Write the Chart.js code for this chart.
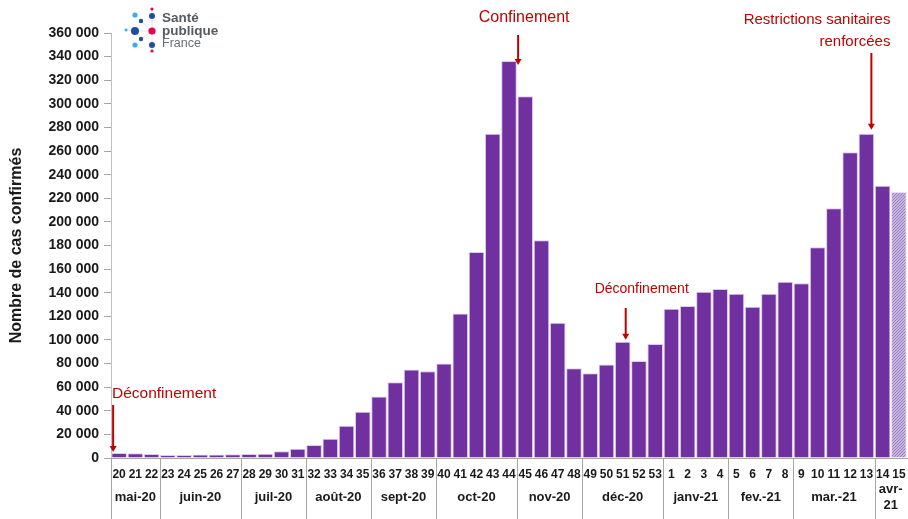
<!DOCTYPE html>
<html>
<head>
<meta charset="utf-8">
<script src="https://cdn.jsdelivr.net/npm/chart.js@4.4.1/dist/chart.umd.min.js"></script>
<style>
  html, body { margin: 0; padding: 0; background: #fff; }
  #wrap { width: 908px; height: 519px; position: relative; }
</style>
</head>
<body>
<div id="wrap"><canvas id="cases"></canvas></div>
<script>
// semaines ISO, mai 2020 -> avril 2021
const weeks = ['20','21','22','23','24','25','26','27','28','29','30','31','32','33','34','35',
  '36','37','38','39','40','41','42','43','44','45','46','47','48','49','50','51','52','53',
  '1','2','3','4','5','6','7','8','9','10','11','12','13','14','15'];

const cases = [4200, 4000, 3300, 2600, 2600, 2900, 3000, 3200, 3300, 3500, 5700, 7900,
  11000, 16400, 27400, 39200, 52200, 64100, 75000, 73500, 80000, 122500, 174500, 274700,
  336300, 306500, 184500, 114500, 76000, 71800, 79300, 98500, 82200, 96600,
  126500, 128700, 140900, 143100, 139200, 128200, 139200, 149400, 148000,
  178500, 211500, 259000, 274700, 230700, 225300];

const months = ['mai-20', 'juin-20', 'juil-20', 'août-20', 'sept-20', 'oct-20', 'nov-20',
  'déc-20', 'janv-21', 'fev.-21', 'mar.-21', ['avr-', '21']];
const monthWeeks = [3, 5, 4, 4, 4, 5, 4, 5, 4, 4, 5, 2];

const yTicksMax = 360000;
const yStep = 20000;

const PURPLE = '#7030A0';
const RED = '#C00000';

// derniere semaine = donnees provisoires (hachurees)
function makePattern() {
  const c = document.createElement('canvas');
  c.width = 3; c.height = 3;
  const g = c.getContext('2d');
  g.fillStyle = '#C7B3DE';
  g.fillRect(0, 0, 3, 3);
  g.fillStyle = '#9C80C4';
  g.fillRect(0, 0, 1, 1);
  g.fillRect(2, 1, 1, 1);
  g.fillRect(1, 2, 1, 1);
  return g.createPattern(c, 'repeat');
}
const pattern = makePattern();

function fmt(v) {
  return String(v).replace(/\B(?=(\d{3})+(?!\d))/g, ' ');
}

function arrow(ctx, x, y1, y2) {
  ctx.strokeStyle = RED;
  ctx.fillStyle = RED;
  ctx.lineWidth = 2;
  ctx.beginPath();
  ctx.moveTo(x, y1);
  ctx.lineTo(x, y2 - 5);
  ctx.stroke();
  ctx.beginPath();
  ctx.moveTo(x - 3.5, y2 - 6);
  ctx.lineTo(x + 3.5, y2 - 6);
  ctx.lineTo(x, y2);
  ctx.closePath();
  ctx.fill();
}

const extras = {
  id: 'extras',
  afterDraw(chart) {
    const ctx = chart.ctx;
    const x = chart.scales.x;
    const y = chart.scales.y;
    const area = chart.chartArea;
    const half = (x.getPixelForValue(1) - x.getPixelForValue(0)) / 2;
    ctx.save();

    // separateurs de mois + libelles
    ctx.strokeStyle = '#A6A6A6';
    ctx.lineWidth = 1;
    ctx.fillStyle = '#1a1a1a';
    ctx.font = 'bold 13px "Liberation Sans", Arial, sans-serif';
    ctx.textAlign = 'center';
    ctx.textBaseline = 'middle';
    let start = 0;
    const bottom = chart.height;
    const edge0 = Math.round(x.getPixelForValue(0) - half) + 0.5;
    ctx.beginPath();
    ctx.moveTo(edge0, area.bottom);
    ctx.lineTo(edge0, bottom);
    ctx.stroke();
    months.forEach((m, i) => {
      const end = start + monthWeeks[i] - 1;
      const left = x.getPixelForValue(start) - half;
      const right = x.getPixelForValue(end) + half;
      const cx = (left + right) / 2;
      if (Array.isArray(m)) {
        ctx.fillText(m[0], cx, area.bottom + 31);
        ctx.fillText(m[1], cx, area.bottom + 47);
      } else {
        ctx.fillText(m, cx, area.bottom + 39);
      }
      if (i < months.length - 1) {
        const px = Math.round(right) + 0.5;
        ctx.beginPath();
        ctx.moveTo(px, area.bottom);
        ctx.lineTo(px, bottom);
        ctx.stroke();
      }
      start = end + 1;
    });

    // annotations
    ctx.fillStyle = RED;
    ctx.textBaseline = 'middle';

    // deconfinement mai 2020
    let ax = x.getPixelForValue(0) - 6;
    arrow(ctx, ax, 405, y.getPixelForValue(cases[0]) - 1);
    ctx.fillStyle = RED;
    ctx.font = '15.5px "Liberation Sans", Arial, sans-serif';
    ctx.textAlign = 'left';
    ctx.fillText('Déconfinement', area.left + 1, 394);

    // confinement S44
    ax = (x.getPixelForValue(24) + x.getPixelForValue(25)) / 2 + 1;
    arrow(ctx, ax, 35, y.getPixelForValue(cases[24]) + 4);
    ctx.fillStyle = RED;
    ctx.font = '16px "Liberation Sans", Arial, sans-serif';
    ctx.textAlign = 'center';
    ctx.fillText('Confinement', ax + 6, 18);

    // deconfinement S51
    ax = x.getPixelForValue(31) + 3;
    arrow(ctx, ax, 308, y.getPixelForValue(cases[31]) - 2);
    ctx.fillStyle = RED;
    ctx.font = '14px "Liberation Sans", Arial, sans-serif';
    ctx.textAlign = 'center';
    ctx.fillText('Déconfinement', ax + 16, 289);

    // restrictions S13
    ax = x.getPixelForValue(46) + 5;
    arrow(ctx, ax, 53, y.getPixelForValue(cases[46]) - 4);
    ctx.fillStyle = RED;
    ctx.font = '15px "Liberation Sans", Arial, sans-serif';
    ctx.textAlign = 'right';
    ctx.fillText('Restrictions sanitaires', ax + 19, 20);
    ctx.fillText('renforcées', ax + 19, 42);

    // logo Sante publique France
    const dots = [
      [152, 9, 1.6, '#E5004C'], [152, 16, 3, '#1F4E9E'], [141, 21, 2.2, '#1F4E9E'],
      [135, 15, 2.6, '#3AB0E2'], [126, 30, 1.5, '#3AB0E2'], [135, 31, 4, '#1F4E9E'],
      [152, 31, 3.6, '#E5004C'], [141, 39, 2.2, '#1F4E9E'], [135, 45, 2.6, '#3AB0E2'],
      [152, 45, 3, '#1F4E9E'], [152, 51, 1.6, '#E5004C']
    ];
    ctx.strokeStyle = '#D5DDEA';
    ctx.lineWidth = 0.8;
    ctx.beginPath();
    [[135, 31, 152, 31], [152, 9, 152, 51], [141, 21, 152, 31], [141, 39, 152, 31], [126, 30, 135, 31]]
      .forEach(l => { ctx.moveTo(l[0], l[1]); ctx.lineTo(l[2], l[3]); });
    ctx.stroke();
    dots.forEach(d => {
      ctx.fillStyle = d[3];
      ctx.beginPath();
      ctx.arc(d[0], d[1], d[2], 0, Math.PI * 2);
      ctx.fill();
    });
    ctx.textAlign = 'left';
    ctx.fillStyle = '#555a60';
    ctx.font = 'bold 13.5px "Liberation Sans", Arial, sans-serif';
    ctx.fillText('Santé', 162, 18);
    ctx.fillText('publique', 162, 31);
    ctx.font = '12.5px "Liberation Sans", Arial, sans-serif';
    ctx.fillStyle = '#6a6f75';
    ctx.fillText('France', 162, 44);

    ctx.restore();
  }
};

new Chart(document.getElementById('cases'), {
  type: 'bar',
  data: {
    labels: weeks,
    datasets: [{
      label: 'Cas confirmés',
      data: cases,
      backgroundColor: cases.map((v, i) => i === cases.length - 1 ? pattern : PURPLE),
      borderColor: cases.map((v, i) => i === cases.length - 1 ? '#E8DFF2' : '#DCCBEA'),
      borderWidth: 1,
      barPercentage: 0.96,
      categoryPercentage: 1
    }]
  },
  options: {
    responsive: true,
    maintainAspectRatio: false,
    animation: false,
    layout: { padding: { top: 33, right: 1, left: 0, bottom: 0 } },
    plugins: { legend: { display: false }, tooltip: { enabled: false } },
    scales: {
      x: {
        grid: { display: false, drawTicks: true, tickLength: 8 },
        border: { display: true, color: '#A6A6A6', width: 1 },
        ticks: {
          autoSkip: false,
          maxRotation: 0,
          padding: 1,
          color: '#1a1a1a',
          font: { family: '"Liberation Sans", Arial, sans-serif', size: 12, weight: 'bold' }
        },
        afterFit(s) { s.height = 61; }
      },
      y: {
        min: 0,
        max: yTicksMax,
        ticks: {
          stepSize: yStep,
          padding: 5,
          color: '#1a1a1a',
          font: { family: '"Liberation Sans", Arial, sans-serif', size: 14, weight: 'bold' },
          callback: v => fmt(v)
        },
        grid: { drawOnChartArea: false, tickLength: 7, color: '#A6A6A6' },
        border: { display: true, color: '#BFBFBF', width: 1 },
        title: {
          display: true,
          text: 'Nombre de cas confirmés',
          color: '#1a1a1a',
          padding: { top: 7, bottom: 0 },
          font: { family: '"Liberation Sans", Arial, sans-serif', size: 16, weight: 'bold' }
        },
        afterFit(s) { s.width = 111; }
      }
    }
  },
  plugins: [extras]
});
</script>
</body>
</html>
